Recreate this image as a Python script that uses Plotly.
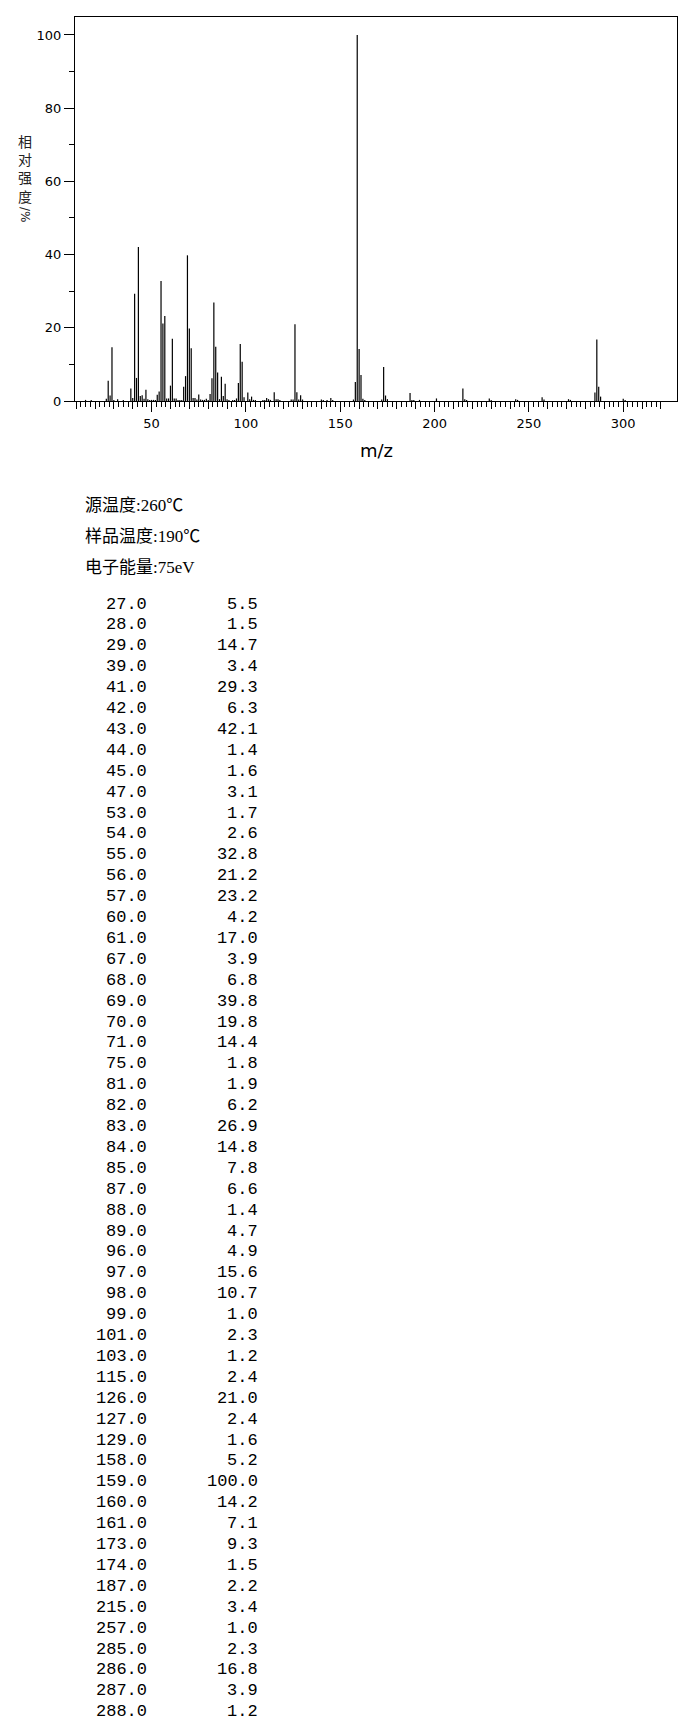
import numpy as np
import plotly.graph_objects as go

# ---- data: listed peaks (m/z, relative intensity %) ----
mz = [27, 28, 29, 39, 41, 42, 43, 44, 45, 47, 53, 54, 55, 56, 57, 60, 61, 67, 68, 69,
      70, 71, 75, 81, 82, 83, 84, 85, 87, 88, 89, 96, 97, 98, 99, 101, 103, 115, 126, 127,
      129, 158, 159, 160, 161, 173, 174, 187, 215, 257, 285, 286, 287, 288]
intensity = [5.5, 1.5, 14.7, 3.4, 29.3, 6.3, 42.1, 1.4, 1.6, 3.1, 1.7, 2.6, 32.8, 21.2, 23.2, 4.2,
             17.0, 3.9, 6.8, 39.8, 19.8, 14.4, 1.8, 1.9, 6.2, 26.9, 14.8, 7.8, 6.6, 1.4, 4.7, 4.9,
             15.6, 10.7, 1.0, 2.3, 1.2, 2.4, 21.0, 2.4, 1.6, 5.2, 100.0, 14.2, 7.1, 9.3, 1.5, 2.2,
             3.4, 1.0, 2.3, 16.8, 3.9, 1.2]

# ---- minor peaks (< 1 %) visible in the spectrum but not listed ----
minor_mz = [15, 18, 26, 30, 32, 35, 40, 46, 48, 49, 50, 51, 52, 58, 59, 62, 63, 64, 65, 66,
            72, 73, 74, 76, 77, 78, 79, 80, 86, 90, 91, 93, 94, 95, 102, 104, 105, 109, 110,
            111, 112, 113, 116, 117, 118, 124, 125, 128, 130, 140, 141, 143, 145, 146, 157,
            162, 163, 172, 175, 188, 189, 192, 201, 216, 217, 229, 230, 243, 244, 258, 271,
            272, 300, 301]
minor_int = [0.3, 0.3, 0.6, 0.3, 0.5, 0.3, 0.8, 0.6, 0.5, 0.3, 0.3, 0.3, 0.3, 0.7, 0.7, 0.7,
             0.7, 0.3, 0.3, 0.3, 0.8, 0.8, 0.4, 0.4, 0.3, 0.3, 0.6, 0.3, 0.5, 0.5, 0.3, 0.3,
             0.3, 0.7, 0.5, 0.3, 0.3, 0.3, 0.3, 0.8, 0.5, 0.3, 0.5, 0.5, 0.3, 0.4, 0.4, 0.4,
             0.4, 0.4, 0.3, 0.3, 0.8, 0.3, 0.4, 0.6, 0.3, 0.4, 0.5, 0.3, 0.3, 0.3, 0.7, 0.5,
             0.3, 0.7, 0.3, 0.5, 0.3, 0.4, 0.5, 0.3, 0.6, 0.3]

header_lines = ["源温度:260℃", "样品温度:190℃", "电子能量:75eV"]
y_title_chars = ["相", "对", "强", "度"]
y_title_tail = "/%"
x_title = "m/z"
x_tick_vals = [50, 100, 150, 200, 250, 300]
y_tick_vals = [0, 20, 40, 60, 80, 100]

# ---- geometry (pixels) ----
W, H = 687, 1718
L, R, T, B = 75, 677, 17, 401
PW, PH = R - L, B - T


def px(xp):
    return (xp - L) / PW


def py(yp):
    return (B - yp) / PH


all_mz = list(mz) + list(minor_mz)
all_int = list(intensity) + list(minor_int)
xs, ys = [], []
for m, v in zip(all_mz, all_int):
    xs += [m, m, None]
    ys += [0, v, None]

fig = go.Figure()
fig.add_trace(go.Scatter(x=xs, y=ys, mode="lines",
                         line=dict(color="black", width=1.2),
                         hoverinfo="skip", showlegend=False))
# invisible trace to carry the medium tick axis
fig.add_trace(go.Scatter(x=[100], y=[0], xaxis="x2", yaxis="y", mode="markers",
                         marker=dict(opacity=0), hoverinfo="skip", showlegend=False))

XR = [9.4, 328.5]
YR = [0, 104.9]
tickfont = dict(family="DejaVu Sans", size=13, color="black")

fig.update_layout(
    width=W, height=H,
    margin=dict(l=L, r=W - R, t=T, b=H - B, pad=0),
    paper_bgcolor="white", plot_bgcolor="white",
    xaxis=dict(range=XR, showgrid=False, zeroline=False,
               showline=True, mirror=True, linecolor="black", linewidth=1,
               tickmode="array", tickvals=x_tick_vals, ticks="outside", ticklen=10,
               tickwidth=1, tickcolor="black", tickfont=tickfont,
               minor=dict(tickmode="array", tickvals=list(np.arange(10, 320.1, 2.5)),
                          ticks="outside", ticklen=5, tickwidth=1, tickcolor="black",
                          showgrid=False)),
    xaxis2=dict(range=XR, overlaying="x", anchor="y", side="bottom",
                showgrid=False, zeroline=False, showline=False,
                tickmode="array", tickvals=list(np.arange(10, 320.1, 10)),
                ticks="outside", ticklen=7, tickwidth=1, tickcolor="black",
                showticklabels=False),
    yaxis=dict(range=YR, showgrid=False, zeroline=False,
               showline=True, mirror=True, linecolor="black", linewidth=1,
               tickmode="array", tickvals=y_tick_vals, ticks="outside", ticklen=10,
               tickwidth=1, tickcolor="black", tickfont=tickfont,
               minor=dict(tickmode="array", tickvals=[10, 30, 50, 70, 90],
                          ticks="outside", ticklen=5, tickwidth=1, tickcolor="black",
                          showgrid=False)),
)

ann = []
# x axis title
ann.append(dict(x=px(376), y=py(450), xref="paper", yref="paper", text=x_title,
                showarrow=False, xanchor="center", yanchor="middle",
                font=dict(family="DejaVu Sans", size=18, color="black")))
# y axis title (stacked characters)
ann.append(dict(x=px(25), y=py(129), xref="paper", yref="paper",
                text="<br>".join(y_title_chars),
                showarrow=False, xanchor="center", yanchor="top",
                font=dict(family="Noto Sans CJK SC", size=14, color="#222222")))
ann.append(dict(x=px(25), y=py(214), xref="paper", yref="paper", text=y_title_tail,
                showarrow=False, xanchor="center", yanchor="middle", textangle=90,
                font=dict(family="DejaVu Sans", size=12, color="#222222")))

# header lines
hdr_font = dict(family="Liberation Serif, Noto Sans CJK SC", size=17, color="black")
for i, t in enumerate(header_lines):
    ann.append(dict(x=px(83), y=py(505 + 31 * i), xref="paper", yref="paper", text=t,
                    showarrow=False, xanchor="left", yanchor="middle", font=hdr_font))

# peak table
tbl_font = dict(family="Liberation Mono", size=17, color="black")
for i, (m, v) in enumerate(zip(mz, intensity)):
    yy = py(604 + 20.9 * i)
    ann.append(dict(x=px(149), y=yy, xref="paper", yref="paper", text=f"{m:.1f}",
                    showarrow=False, xanchor="right", yanchor="middle", font=tbl_font))
    ann.append(dict(x=px(260), y=yy, xref="paper", yref="paper", text=f"{v:.1f}",
                    showarrow=False, xanchor="right", yanchor="middle", font=tbl_font))

fig.update_layout(annotations=ann)
fig.write_html("out.html", config={"displayModeBar": False},
               post_script="document.body.style.margin='0';document.body.style.overflow='hidden';")
